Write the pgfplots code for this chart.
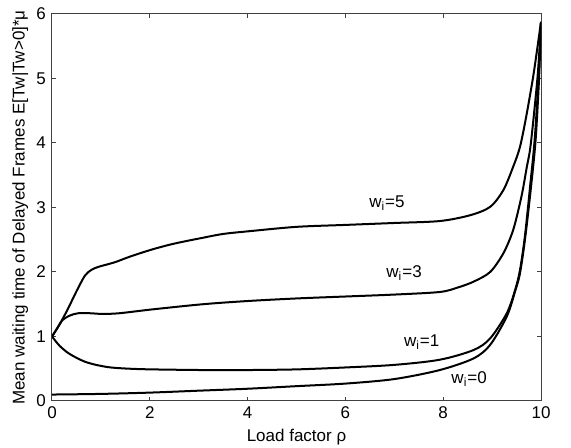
\documentclass[border=0pt]{standalone}
\usepackage{fontspec}
\setmainfont{Liberation Sans}
\usepackage{pgfplots}
\pgfplotsset{compat=1.18}
\usetikzlibrary{calc}
\pgfplotsset{curve/.style={black, line width=1pt, mark=none, smooth, tension=0.5}}
\begin{document}
\fontsize{8.5}{10}\selectfont
\begin{tikzpicture}
\begin{axis}[name=ax,
  width=244.5pt, height=193.5pt, scale only axis,
  xmin=0, xmax=10, ymin=0, ymax=6,
  xtick={0,2,...,10}, ytick={0,1,...,6},
  tick align=inside, major tick length=2pt,
  axis line style={line width=0.5pt, black!75},
  every tick/.style={line width=0.5pt, black!75},
  /pgf/number format/assume math mode=true,
  tick label style={font=\fontsize{8.5}{10}\selectfont},
  label style={font=\fontsize{8.5}{10}\selectfont},
  xlabel={Load factor ρ},
  ylabel={Mean waiting time of Delayed Frames E[Tw|Tw>0]*μ},
  xlabel style={at={(axis description cs:0.5,-0.093)}, anchor=center},
  ylabel style={at={(axis description cs:-0.065,0.5)}, anchor=center},
  clip=true,
]
% w=5
\addplot[curve] coordinates {(0,1.0) (0.15,1.18) (0.32,1.42) (0.5,1.7) (0.67,1.94) (0.8,2.03) (0.95,2.08) (1.28,2.15) (1.6,2.24) (2.05,2.35) (2.5,2.44) (3.08,2.53) (3.5,2.59) (4,2.63) (5,2.70) (6,2.73) (7,2.76) (7.93,2.79) (8.55,2.88) (8.96,3.01) (9.23,3.27) (9.43,3.63) (9.57,3.94) (9.7,4.42) (9.84,5.03) (9.93,5.5) (10,5.88)};
% w=3
\addplot[curve] coordinates {(0,1.0) (0.1,1.12) (0.21,1.25) (0.35,1.32) (0.53,1.36) (0.8,1.36) (1.02,1.35) (1.37,1.36) (2.05,1.42) (3.08,1.5) (4,1.55) (5,1.59) (6,1.62) (7,1.65) (7.93,1.69) (8.3,1.76) (8.62,1.85) (8.96,2.0) (9.23,2.29) (9.43,2.65) (9.6,3.17) (9.71,3.63) (9.79,3.98) (9.93,5.03) (10,5.86)};
% w=1
\addplot[curve] coordinates {(0,1.0) (0.15,0.86) (0.32,0.75) (0.5,0.67) (0.67,0.61) (0.9,0.56) (1.2,0.52) (1.6,0.50) (2.05,0.49) (3.08,0.48) (4,0.48) (5,0.49) (6,0.52) (7,0.56) (7.93,0.64) (8.62,0.79) (8.96,0.97) (9.3,1.36) (9.47,1.72) (9.57,2.03) (9.67,2.55) (9.78,3.35) (9.87,4.05) (9.95,5.0) (10,5.86)};
% w=0
\addplot[curve] coordinates {(0,0.10) (1,0.11) (2,0.13) (3,0.16) (4,0.19) (5,0.23) (6,0.27) (7,0.34) (7.93,0.48) (8.62,0.66) (8.96,0.87) (9.3,1.31) (9.47,1.70) (9.57,1.98) (9.68,2.55) (9.8,3.35) (9.89,4.05) (9.96,5.0) (10,5.86)};
\node[anchor=base] at (axis cs:6.85,3.0) {w\textsubscript{i}=5};
\node[anchor=base] at (axis cs:7.2,1.91) {w\textsubscript{i}=3};
\node[anchor=base] at (axis cs:7.56,0.84) {w\textsubscript{i}=1};
\node[anchor=base] at (axis cs:8.53,0.27) {w\textsubscript{i}=0};
\end{axis}
\pgfresetboundingbox
\path ($(ax.south west)+(-26pt,-23.5pt)$) rectangle ($(ax.north east)+(15pt,7pt)$);
\end{tikzpicture}
\end{document}
